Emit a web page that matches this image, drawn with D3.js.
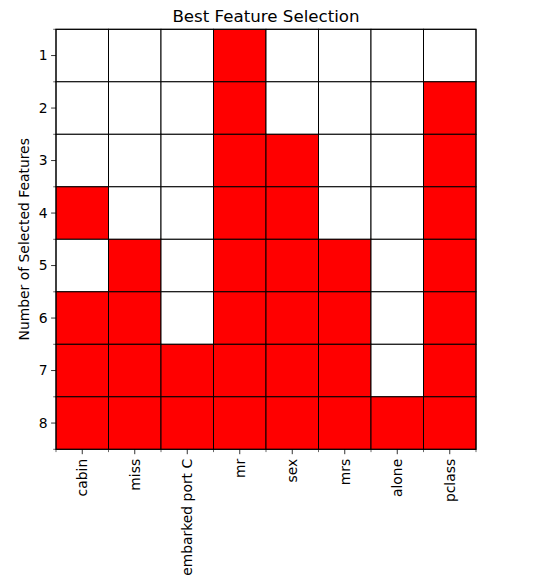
<!DOCTYPE html>
<html>
<head>
<meta charset="utf-8">
<script src="https://cdn.jsdelivr.net/npm/d3@7"></script>
<style>
  body { margin: 0; background: #fff; }
  svg { display: block; }
  text { font-family: "DejaVu Sans", sans-serif; fill: #000; }
</style>
</head>
<body>
<script>
// Data
const features = ["cabin", "miss", "embarked port C", "mr", "sex", "mrs", "alone", "pclass"];
const nSelected = [1, 2, 3, 4, 5, 6, 7, 8];
// selection[i][j] = 1 if feature j chosen when nSelected[i] features are kept
const selection = [
  [0, 0, 0, 1, 0, 0, 0, 0],
  [0, 0, 0, 1, 0, 0, 0, 1],
  [0, 0, 0, 1, 1, 0, 0, 1],
  [1, 0, 0, 1, 1, 0, 0, 1],
  [0, 1, 0, 1, 1, 1, 0, 1],
  [1, 1, 0, 1, 1, 1, 0, 1],
  [1, 1, 1, 1, 1, 1, 0, 1],
  [1, 1, 1, 1, 1, 1, 1, 1]
];
const title = "Best Feature Selection";
const yLabel = "Number of Selected Features";

const W = 538, H = 587;
const m = { left: 56, top: 29.3, right: 538 - 476, bottom: 587 - 449.3 };
const iw = W - m.left - m.right, ih = H - m.top - m.bottom;

const svg = d3.select("body").append("svg").attr("width", W).attr("height", H);
const g = svg.append("g").attr("transform", `translate(${m.left},${m.top})`);

const x = d3.scaleBand().domain(features).range([0, iw]).padding(0);
const y = d3.scaleBand().domain(nSelected).range([0, ih]).padding(0);

const cells = [];
selection.forEach((row, i) => row.forEach((v, j) => cells.push({ n: nSelected[i], f: features[j], v })));

g.selectAll("rect.cell").data(cells).join("rect")
  .attr("class", "cell")
  .attr("x", d => x(d.f)).attr("y", d => y(d.n))
  .attr("width", x.bandwidth()).attr("height", y.bandwidth())
  .attr("fill", d => d.v ? "#ff0000" : "#ffffff")
  .attr("stroke", "#000").attr("stroke-width", 1);

// frame
g.append("rect").attr("x", 0).attr("y", 0).attr("width", iw).attr("height", ih)
  .attr("fill", "none").attr("stroke", "#000").attr("stroke-width", 1);

const fs = 13.9;
// Y axis major ticks
const yAxis = d3.axisLeft(y).tickSize(4.9).tickPadding(3.5);
const ya = g.append("g").call(yAxis);
ya.select(".domain").remove();
ya.selectAll("text").style("font-size", fs + "px").style("font-family", "DejaVu Sans, sans-serif");
ya.selectAll("line").attr("stroke-width", 0.8);

// Y minor ticks at boundaries
const yBounds = nSelected.map(n => y(n)).concat([ih]);
g.selectAll("line.yminor").data(yBounds).join("line")
  .attr("x1", 0).attr("x2", -2.8).attr("y1", d => d).attr("y2", d => d)
  .attr("stroke", "#000").attr("stroke-width", 0.6);

// X axis
const xAxis = d3.axisBottom(x).tickSize(4.9).tickPadding(3.5);
const xa = g.append("g").attr("transform", `translate(0,${ih})`).call(xAxis);
xa.select(".domain").remove();
xa.selectAll("line").attr("stroke-width", 0.8);
xa.selectAll("text")
  .style("font-size", fs + "px").style("font-family", "DejaVu Sans, sans-serif")
  .attr("transform", "rotate(-90)")
  .attr("x", -9.5).attr("y", 0).attr("dy", "0.35em")
  .attr("text-anchor", "end");

const xBounds = features.map(f => x(f)).concat([iw]);
g.selectAll("line.xminor").data(xBounds).join("line")
  .attr("y1", ih).attr("y2", ih + 2.8).attr("x1", d => d).attr("x2", d => d)
  .attr("stroke", "#000").attr("stroke-width", 0.6);

// Title
svg.append("text").attr("x", m.left + iw / 2).attr("y", 21.5)
  .attr("text-anchor", "middle").style("font-size", "16.67px").text(title);

// Y label
svg.append("text")
  .attr("transform", `translate(28.5,${m.top + ih / 2}) rotate(-90)`)
  .attr("text-anchor", "middle").style("font-size", fs + "px").text(yLabel);
</script>
</body>
</html>
